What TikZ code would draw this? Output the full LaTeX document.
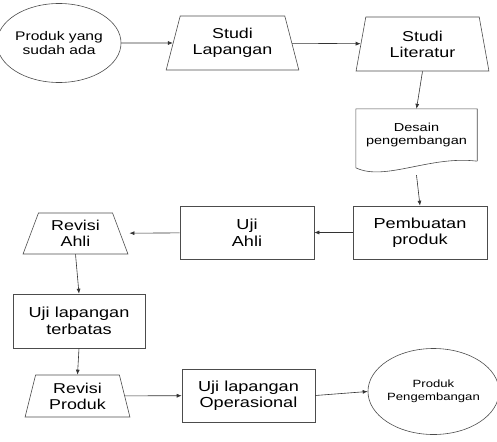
\documentclass[tikz,border=0pt]{standalone}
\usepackage{fontspec}
\setmainfont{Liberation Sans}[FakeStretch=1.25]
\usetikzlibrary{shapes.geometric,arrows.meta}

\begin{document}
\begin{tikzpicture}[x=1pt, y=-1pt,
  kotak/.style={rectangle, draw=black!70, line width=0.6pt, minimum width=133pt, minimum height=53pt, inner sep=0pt, align=center, font=\fontsize{14.5}{16.5}\selectfont},
  trapesium/.style={trapezium, draw=black!70, line width=0.6pt, trapezium stretches=true, inner sep=0pt, align=center, font=\fontsize{14.3}{16}\selectfont},
  bulat/.style={ellipse, draw=black!70, line width=0.6pt, inner sep=0pt, align=center},
  panah/.style={draw=black!80, line width=0.6pt, -{Latex[length=5pt,width=4pt]}}]
\useasboundingbox (0,0) rectangle (497,441);
\node [bulat, minimum width=108pt, minimum height=79pt, font=\fontsize{12.5}{14}\selectfont] (awal) at (59,43) {Produk yang\\sudah ada};
\node [trapesium, minimum width=133pt, minimum height=54pt, trapezium angle=70] (lapangan) at (232.5,43) {Studi\\Lapangan};
\node [trapesium, minimum width=133pt, minimum height=54pt, trapezium angle=78] (literatur) at (422.5,44) {Studi\\Literatur};
\node [rectangle, minimum width=121pt, minimum height=52pt, inner sep=0pt, align=center, font=\fontsize{11.6}{13.5}\selectfont] (desain) at (416.5,135) {Desain\\pengembangan};
\draw [draw=black!70, line width=0.6pt] (desain.south east) -- (desain.north east) -- (desain.north west) -- ++(0,59) .. controls +(29,14) and +(-47,-6) .. (desain.south east);
\node [kotak, minimum width=134pt] (buat) at (420,232.5) {Pembuatan\\produk};
\node [kotak, minimum width=134pt] (ahli) at (247,232.5) {Uji\\Ahli};
\node [trapesium, minimum width=105pt, minimum height=41pt, trapezium angle=69] (revahli) at (75.5,233.5) {Revisi\\Ahli};
\node [kotak, minimum width=132pt, minimum height=54pt] (terbatas) at (79,321) {Uji lapangan\\terbatas};
\node [trapesium, minimum width=105pt, minimum height=42pt, trapezium angle=75] (revproduk) at (77.5,396) {Revisi\\Produk};
\node [kotak] (operasional) at (248.5,395.5) {Uji lapangan\\Operasional};
\node [bulat, minimum width=121pt, minimum height=86pt, font=\fontsize{10.5}{13}\selectfont] (hasil) at (433.5,391.5) {Produk\\Pengembangan};
\draw [panah] (awal) -- (lapangan);
\draw [panah] (lapangan) -- (literatur);
\draw [panah] (literatur.south) -- (desain.north);
\draw [panah] ([yshift=-14pt]desain.south) -- (buat.north);
\draw [panah] (buat) -- (ahli);
\draw [panah, shorten >=9pt] (ahli) -- (revahli);
\draw [panah] (revahli.south) -- (terbatas.north);
\draw [panah] (terbatas.south) -- (revproduk.north);
\draw [panah] (revproduk) -- (operasional);
\draw [panah] (operasional.east) -- (hasil.west);
\end{tikzpicture}
\end{document}
